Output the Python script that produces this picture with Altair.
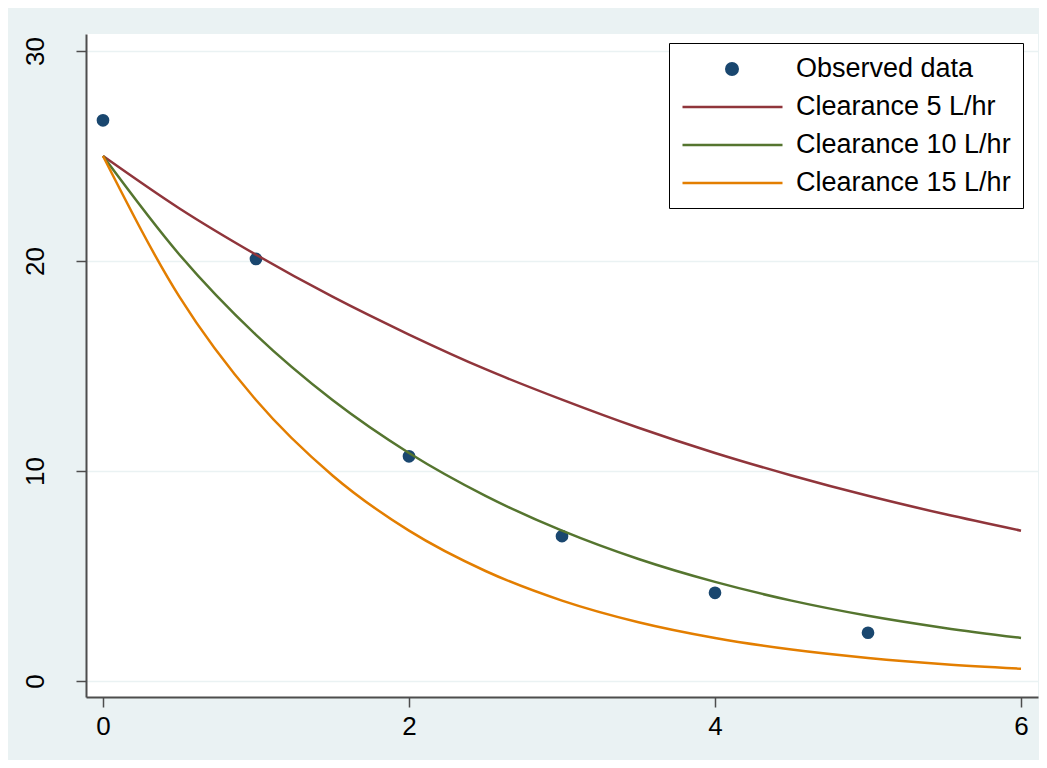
import altair as alt
import pandas as pd

# Observed concentrations
obs_time = [0, 1, 2, 3, 4, 5]
obs_conc = [26.7, 20.1, 10.7, 6.9, 4.2, 2.3]

# Curves (time grid and concentrations)
curve_time = [0, 0.5, 1, 1.5, 2, 2.5, 3, 3.5, 4, 4.5, 5, 5.5, 6]
cl5 = [25.0, 22.5, 20.3, 18.3, 16.5, 14.85, 13.4, 12.06, 10.86, 9.79, 8.82, 7.95, 7.16]
cl10 = [25.0, 20.3, 16.48, 13.38, 10.86, 8.82, 7.16, 5.81, 4.72, 3.83, 3.11, 2.53, 2.05]
cl15 = [25.0, 18.29, 13.38, 9.79, 7.16, 5.24, 3.83, 2.80, 2.05, 1.50, 1.10, 0.80, 0.59]

series_names = ["Observed data", "Clearance 5 L/hr", "Clearance 10 L/hr", "Clearance 15 L/hr"]
series_colors = ["#1a476f", "#90353b", "#55752f", "#e37e00"]
# legend symbol shapes (unit = half of the 25px symbol box)
legend_dot = "M2.5,0A0.46,0.46 0 1,0 3.42,0A0.46,0.46 0 1,0 2.5,0Z"
legend_line = "M-1,0L7,0"
series_shapes = [legend_dot, legend_line, legend_line, legend_line]

x_ticks = [0, 2, 4, 6]
y_ticks = [0, 10, 20, 30]

obs_df = pd.DataFrame({"t": obs_time, "c": obs_conc, "series": series_names[0]})
rows = []
for name, vals in zip(series_names[1:], [cl5, cl10, cl15]):
    for t, c in zip(curve_time, vals):
        rows.append({"t": t, "c": c, "series": name})
line_df = pd.DataFrame(rows)

FONT = "Liberation Sans"

x_enc = alt.X("t:Q", scale=alt.Scale(domain=[-0.111, 6.111], nice=False, zero=False),
              axis=alt.Axis(values=x_ticks, title=None, grid=False, format="d"))
y_enc = alt.Y("c:Q", scale=alt.Scale(domain=[-0.76, 30.81], nice=False, zero=False),
              axis=alt.Axis(values=y_ticks, title=None, grid=True, format="d",
                            labelAngle=270, labelAlign="center", labelBaseline="bottom",
                            labelPadding=28))

legend = alt.Legend(
    title=None, orient="none", legendX=583, legendY=9,
    symbolSize=625, symbolStrokeWidth=2.5, symbolOpacity=1,
    labelFont=FONT, labelFontSize=27, labelColor="black", labelOffset=87,
    padding=12, rowPadding=11, strokeColor="black", fillColor="white",
    cornerRadius=0, labelLimit=400,
)

color_enc = alt.Color("series:N", scale=alt.Scale(domain=series_names, range=series_colors), legend=legend)

points = alt.Chart(obs_df).mark_circle(
    opacity=1, size=104, stroke="#1a476f", strokeWidth=2.5
).encode(
    x=x_enc, y=y_enc,
    color=color_enc,
)

# invisible layer that only carries the legend's symbol shapes
legend_carrier = alt.Chart(obs_df).mark_point(filled=True, opacity=0).encode(
    x=x_enc, y=y_enc,
    color=color_enc,
    shape=alt.Shape("series:N", scale=alt.Scale(domain=series_names, range=series_shapes), legend=legend),
)

lines = alt.Chart(line_df).mark_line(strokeWidth=2.5, interpolate="monotone").encode(
    x=x_enc, y=y_enc,
    color=color_enc,
)

chart = alt.layer(points, legend_carrier, lines).properties(
    width=952, height=663,
    autosize=alt.AutoSizeParams(type="none"),
    padding={"left": 78, "top": 26, "right": 1, "bottom": 63},
    background="#eaf2f3",
).configure_view(
    fill="white", stroke=None,
).configure_axis(
    domainColor="#4d4d4d", domainWidth=2, tickColor="#4d4d4d", tickWidth=1.5, tickSize=10,
    labelFont=FONT, labelFontSize=26, labelColor="black", gridColor="#eaf2f3", gridWidth=1.5,
).configure_axisX(labelPadding=6)

chart.save("out.html", embed_options={"renderer": "svg", "actions": False})
